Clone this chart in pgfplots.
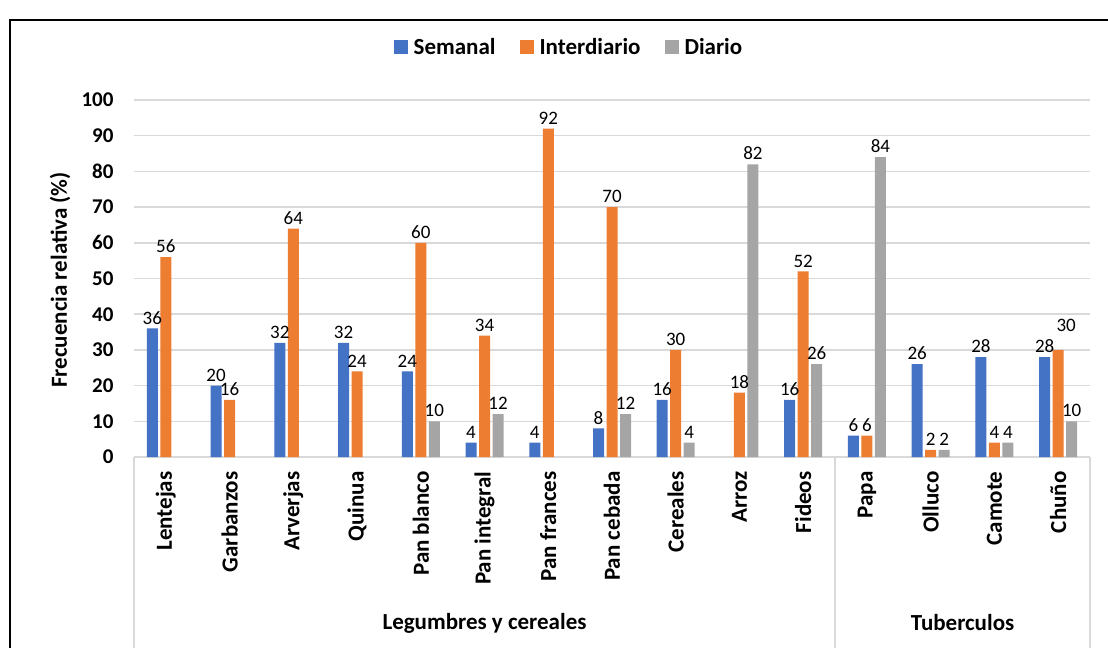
\documentclass[border=0pt]{standalone}
\usepackage{pgfplots}
\pgfplotsset{compat=1.18}
\usepackage{fontspec}
\setmainfont{Carlito}
\definecolor{cblue}{HTML}{4472C4}
\definecolor{corange}{HTML}{ED7D31}
\definecolor{cgray}{HTML}{A5A5A5}
\definecolor{gridgray}{HTML}{D9D9D9}
\newcommand{\bigb}{\bfseries\fontsize{23}{23}\selectfont}
\begin{document}
\begin{tikzpicture}[x=1pt,y=1pt]
\useasboundingbox (0,0) rectangle (1108,648);
\draw[black, line width=2pt] (10,0) -- (10,628) -- (1108,628);
\begin{axis}[
  at={(134pt,191pt)}, anchor=south west,
  scale only axis, width=956pt, height=357pt,
  xmin=-0.5, xmax=14.5, ymin=0, ymax=100,
  ytick={0,10,...,100},
  xtick={0,...,14},
  xticklabels={Lentejas,Garbanzos,Arverjas,Quinua,Pan blanco,Pan integral,Pan frances,Pan cebada,Cereales,Arroz,Fideos,Papa,Olluco,Camote,Chuño},
  axis x line*=bottom, axis y line*=left,
  x axis line style={color=gridgray, line width=1.5pt, -},
  y axis line style={draw=none},
  major tick length=0pt,
  ymajorgrids, grid style={color=gridgray, line width=1.5pt},
  /pgf/number format/assume math mode=true,
  yticklabel style={font=\bfseries\fontsize{21}{21}\selectfont, xshift=-17pt},
  xticklabel style={yshift=-11pt, rotate=90, anchor=east, font=\bigb},
  ylabel={Frecuencia relativa (\%)},
  ylabel style={font=\bigb, at={(axis description cs:-0.0774,0.496)}, anchor=center},
  ybar, bar width=11pt,
  clip=false,
  nodes near coords,
  every node near coord/.append style={font=\fontsize{19}{19}\selectfont, color=black, inner sep=1pt, yshift=3pt},
  legend style={at={(0.455,1.148)}, anchor=center, draw=none, fill=none,
    legend columns=-1, font=\bigb,
    /tikz/every even column/.append style={column sep=22pt}},
  legend image code/.code={\fill[#1] (0pt,-7pt) rectangle (14pt,7pt); \path (18pt,0pt);},
]
\addplot[fill=cblue, draw=none, bar shift=-13.5pt] coordinates {
 (0,36) (1,20) (2,32) (3,32) (4,24) (5,4) (6,4) (7,8) (8,16) (10,16) (11,6) (12,26) (13,28) (14,28)};
\addplot[fill=corange, draw=none, bar shift=0pt,
  coordinate style/.condition={x==14}{yshift=14pt, xshift=8pt}] coordinates {
 (0,56) (1,16) (2,64) (3,24) (4,60) (5,34) (6,92) (7,70) (8,30) (9,18) (10,52) (11,6) (12,2) (13,4) (14,30)};
\addplot[fill=cgray, draw=none, bar shift=13.5pt] coordinates {
 (4,10) (5,12) (7,12) (8,4) (9,82) (10,26) (11,84) (12,2) (13,4) (14,10)};
\legend{Semanal,Interdiario,Diario}
\draw[gridgray, line width=1.5pt] (axis cs:-0.5,0) -- (axis cs:-0.5,-53.5);
\draw[gridgray, line width=1.5pt] (axis cs:10.5,0) -- (axis cs:10.5,-53.5);
\draw[gridgray, line width=1.5pt] (axis cs:14.5,0) -- (axis cs:14.5,-53.5);
\node[font=\bigb] at (axis cs:5,-46.5) {Legumbres y cereales};
\node[font=\bigb] at (axis cs:12.5,-46.5) {Tuberculos};
\end{axis}
\end{tikzpicture}
\end{document}
